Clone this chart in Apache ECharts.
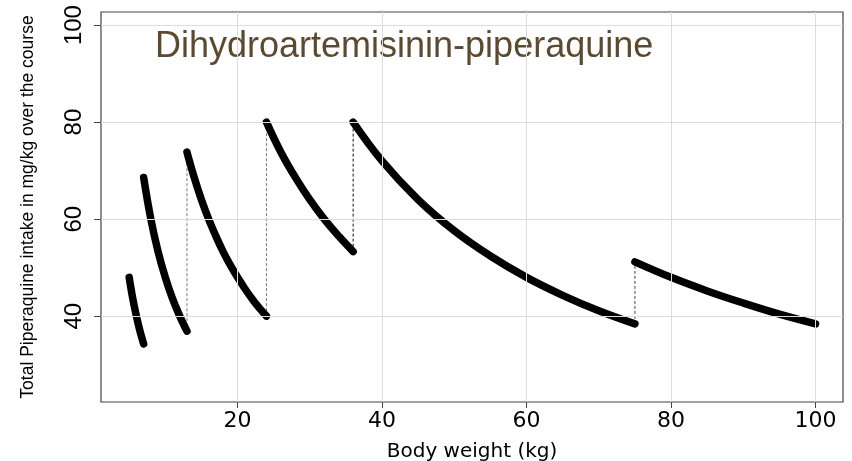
<!DOCTYPE html>
<html>
<head>
<meta charset="utf-8">
<script src="https://cdn.jsdelivr.net/npm/echarts@6/dist/echarts.min.js"></script>
<style>html,body{margin:0;padding:0;background:#fff}#c{width:852px;height:461px}</style>
</head>
<body>
<div id="c"></div>
<script>
// Body weight (kg) and total piperaquine intake (mg/kg), per dosing band
const band1 = [[5, 48], [5.5, 43.6], [6, 40], [6.5, 36.9], [7, 34.3]];
const band2 = [[7, 68.6], [8, 60], [9, 53.3], [10, 48], [11, 43.6], [12, 40], [13, 36.9]];
const band3 = [[13, 73.8], [14, 68.6], [15, 64], [16, 60], [17, 56.5], [18, 53.3], [19, 50.5], [20, 48], [21, 45.7], [22, 43.6], [23, 41.7], [24, 40]];
const band4 = [[24, 80], [26, 73.8], [28, 68.6], [30, 64], [32, 60], [34, 56.5], [36, 53.3]];
const band5 = [[36, 80], [40, 72], [45, 64], [50, 57.6], [55, 52.4], [60, 48], [65, 44.3], [70, 41.1], [75, 38.4]];
const band6 = [[75, 51.2], [80, 48], [85, 45.2], [90, 42.7], [95, 40.4], [100, 38.4]];
const xTicks = [20, 40, 60, 80, 100];
const yTicks = [40, 60, 80, 100];
const titleText = 'Dihydroartemisinin-piperaquine';
const xName = 'Body weight (kg)';
const yName = 'Total Piperaquine intake in mg/kg over the course';

const bands = [band1, band2, band3, band4, band5, band6];
// dashed connectors where one band ends and the next begins (drawn at 13, 24, 36, 75 kg)
const connectorColors = ['#777', '#777', '#111', '#444'];

const chart = echarts.init(document.getElementById('c'), null, {renderer: 'canvas'});
const series = [];

// grid lines
series.push({
  type: 'line', data: [], silent: true,
  markLine: {
    silent: true, symbol: 'none', label: {show: false},
    lineStyle: {color: '#dcdcdc', width: 1, type: 'solid'},
    data: xTicks.map(v => ({xAxis: v})).concat(yTicks.map(v => ({yAxis: v})))
  }
});

for (let i = 2; i < bands.length; i++) {
  const prev = bands[i - 1], cur = bands[i];
  const endPt = prev[prev.length - 1], startPt = cur[0];
  series.push({
    type: 'line', data: [endPt, startPt], symbol: 'none', silent: true,
    lineStyle: {color: connectorColors[i - 2], width: 1, type: [3, 2]}
  });
}

bands.forEach(b => {
  series.push({
    type: 'line', data: b, smooth: 0.4, symbol: 'none', silent: true,
    lineStyle: {color: '#000', width: 7.5, cap: 'round', join: 'round'}
  });
});

chart.setOption({
  animation: false,
  backgroundColor: '#fff',
  graphic: [{
    type: 'text', left: 155, top: 29,
    style: {text: titleText, fill: '#5b4a30', font: '36px "Liberation Sans", Arial, sans-serif'}
  }],
  grid: {left: 101, right: 9, top: 12, bottom: 59, show: true, borderColor: '#444', borderWidth: 1.2,
         backgroundColor: 'transparent', outerBoundsMode: 'none', containLabel: false},
  xAxis: {
    type: 'value', min: 1.1, max: 103.8,
    name: xName, nameLocation: 'middle', nameGap: 40,
    nameTextStyle: {fontFamily: 'DejaVu Sans', fontSize: 20, color: '#000'},
    axisLine: {show: false},
    axisTick: {show: true, length: 6, customValues: xTicks, lineStyle: {color: '#444'}},
    axisLabel: {customValues: xTicks, fontFamily: 'DejaVu Sans', fontSize: 22, color: '#000', margin: 8},
    splitLine: {show: false}
  },
  yAxis: {
    type: 'value', min: 22.3, max: 102.7,
    name: yName, nameLocation: 'middle', nameGap: 64, nameRotate: 90,
    nameTextStyle: {fontFamily: '"Liberation Sans", Arial, sans-serif', fontSize: 17.5, color: '#000'},
    axisLine: {show: false},
    axisTick: {show: true, length: 7, customValues: yTicks, lineStyle: {color: '#444'}},
    axisLabel: {customValues: yTicks, rotate: 90, fontFamily: '"Liberation Sans", Arial, sans-serif', fontSize: 24, color: '#000', margin: 15},
    splitLine: {show: false}
  },
  series: series
});
</script>
</body>
</html>
